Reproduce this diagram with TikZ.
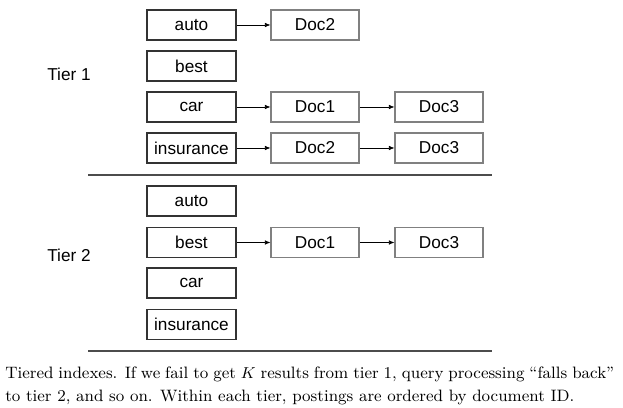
\documentclass[tikz,border=0pt]{standalone}
\usepackage{fontspec}
\newfontfamily\arialfont{Liberation Sans}
\usetikzlibrary{arrows.meta}

\tikzset{
    term/.style={draw=black!80, line width=0.65pt, minimum width=1.78cm, minimum height=0.6cm, inner sep=0pt, font=\arialfont\fontsize{9.8}{11}\selectfont},
    doc/.style={draw=black!50, line width=0.6pt, minimum width=1.76cm, minimum height=0.6cm, inner sep=0pt, font=\arialfont\fontsize{9.8}{11}\selectfont},
    post/.style={-{Latex[length=1.1mm,width=0.9mm]}, line width=0.4pt},
    tier/.style={font=\arialfont\fontsize{9.8}{11}\selectfont},
    divider/.style={line width=1.4pt, draw=black!70}
}

\begin{document}
\begin{tikzpicture}[x=0.02cm, y=-0.02cm]
                \useasboundingbox (0,0) rectangle (623,408);
                \node[tier] (tier1) at (69,74) {Tier 1};
                \node[term] (a1) at (191.5,25) {auto};
                \node[term] (b1) at (191.5,66) {best};
                \node[term] (c1) at (191.5,107) {car};
                \node[term] (i1) at (191.5,148) {insurance};
                \node[doc] (a1d2) at (315,25) {Doc2};
                \node[doc] (c1d1) at (315,107) {Doc1};
                \node[doc] (c1d3) at (439,107) {Doc3};
                \node[doc] (i1d2) at (315,148) {Doc2};
                \node[doc] (i1d3) at (439,148) {Doc3};
                \draw[post] (a1) -- (a1d2);
                \draw[post] (c1) -- (c1d1);
                \draw[post] (c1d1) -- (c1d3);
                \draw[post] (i1) -- (i1d2);
                \draw[post] (i1d2) -- (i1d3);
                \coordinate (l1a) at (88,175);
                \coordinate (l1b) at (492,175);
                \draw[divider] (l1a) -- (l1b);
                \node[tier] (tier2) at (69,255) {Tier 2};
                \node[term] (a2) at (191.5,201) {auto};
                \node[term] (b2) at (191.5,242.5) {best};
                \node[term] (c2) at (191.5,283) {car};
                \node[term] (i2) at (191.5,324.5) {insurance};
                \node[doc] (b2d1) at (315,242.5) {Doc1};
                \node[doc] (b2d3) at (439,242.5) {Doc3};
                \draw[post] (b2) -- (b2d1);
                \draw[post] (b2d1) -- (b2d3);
                \coordinate (l2a) at (88,351);
                \coordinate (l2b) at (492,351);
                \draw[divider] (l2a) -- (l2b);
                \node[anchor=north west, inner sep=0pt, text width=12.18cm, align=justify, font=\fontsize{9.4}{12.6}\selectfont] (caption) at (5,367)
                    {Tiered indexes. If we fail to get $K$ results from tier 1, query processing “falls back”\linebreak to tier 2, and so on. Within each tier, postings are ordered by document ID.};
            \end{tikzpicture}
\end{document}
